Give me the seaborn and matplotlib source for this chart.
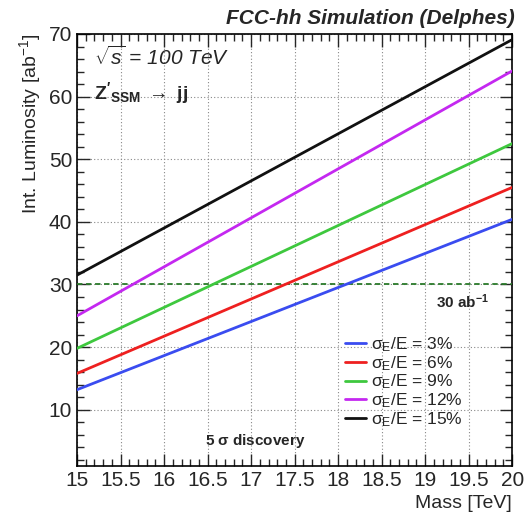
import numpy as np
import pandas as pd
import matplotlib
matplotlib.use("Agg")
import matplotlib.pyplot as plt
import seaborn as sns
from matplotlib.ticker import MultipleLocator
from matplotlib.lines import Line2D

sns.set_style("ticks")
plt.rcParams['font.family'] = ['Liberation Sans', 'DejaVu Sans']
plt.rcParams['mathtext.fontset'] = 'custom'
plt.rcParams['mathtext.rm'] = 'Liberation Sans'
plt.rcParams['mathtext.it'] = 'Liberation Sans:italic'
plt.rcParams['mathtext.bf'] = 'Liberation Sans:bold'

# Data
mass = [15.0, 20.0]
lumi_3 = [13.2, 40.4]
lumi_6 = [15.8, 45.5]
lumi_9 = [19.8, 52.5]
lumi_12 = [25.0, 64.1]
lumi_15 = [31.5, 69.1]
labels = [r"$\mathregular{\sigma_E}$/E = 3%", r"$\mathregular{\sigma_E}$/E = 6%",
          r"$\mathregular{\sigma_E}$/E = 9%", r"$\mathregular{\sigma_E}$/E = 12%",
          r"$\mathregular{\sigma_E}$/E = 15%"]
series = [lumi_3, lumi_6, lumi_9, lumi_12, lumi_15]
colors = ["#3a4cf0", "#ee2020", "#3ec83e", "#c428f0", "#111111"]
target_lumi = 30

rows = []
for lab, vals in zip(labels, series):
    for m, v in zip(mass, vals):
        rows.append({"Mass": m, "Lumi": v, "res": lab})
df = pd.DataFrame(rows)

fig = plt.figure(figsize=(5.28, 5.15), dpi=100)
ax = fig.add_axes([0.146, 0.095, 0.824, 0.839])

ax.axhline(target_lumi, color="#2a7a2a", lw=1.3, ls=(0, (3, 2)), zorder=3)
sns.lineplot(data=df, x="Mass", y="Lumi", hue="res", palette=colors,
             hue_order=labels, ax=ax, lw=2, legend=False, zorder=4)

ax.set_xlim(15, 20)
ax.set_ylim(1, 70)
ax.xaxis.set_minor_locator(MultipleLocator(0.1))
ax.yaxis.set_minor_locator(MultipleLocator(2))
ax.set_xticks(np.arange(15, 20.01, 0.5))
ax.set_xticklabels(["15", "15.5", "16", "16.5", "17", "17.5", "18", "18.5", "19", "19.5", "20"])
ax.set_yticks(np.arange(10, 70.01, 10))
ax.tick_params(which="both", direction="in", top=True, right=True, labelsize=15)
ax.tick_params(which="major", length=9, width=1)
ax.tick_params(which="minor", length=5, width=1)
ax.grid(True, which="major", ls=(0, (1, 2)), color="#888888", lw=0.8)
for s in ax.spines.values():
    s.set_linewidth(1.2)
    s.set_color("black")

ax.set_xlabel("Mass [TeV]", fontsize=14, loc="right")
ax.set_ylabel(r"Int. Luminosity [ab$^{\mathregular{-1}}$]", fontsize=14, loc="top")

fig.text(0.975, 0.965, "FCC-hh Simulation (Delphes)", ha="right", va="center",
         fontsize=15, fontweight="bold", fontstyle="italic")
ax.text(15.2, 66.3, r"$\sqrt{s}$ = 100 TeV", fontsize=15, fontstyle="italic", va="center")
ax.text(15.2, 60.5, r"$\mathbf{Z'_{SSM}}$ $\rightarrow$ jj", fontsize=14, fontweight="bold", va="center")
ax.text(19.73, 27.3, r"30 ab$^{\mathbf{-1}}$", fontsize=11, fontweight="bold", ha="right", va="center")
ax.text(17.05, 5.0, r"5 $\mathregular{\sigma}$ discovery", fontsize=11, fontweight="bold", ha="center", va="center")

handles = [Line2D([], [], color=c, lw=2) for c in colors]
leg = ax.legend(handles, labels, loc="lower left", bbox_to_anchor=(0.6, 0.07),
                frameon=False, fontsize=12.5, handlelength=1.2, handletextpad=0.3,
                labelspacing=0.0, borderaxespad=0)

fig.savefig("out.png", dpi=100)
